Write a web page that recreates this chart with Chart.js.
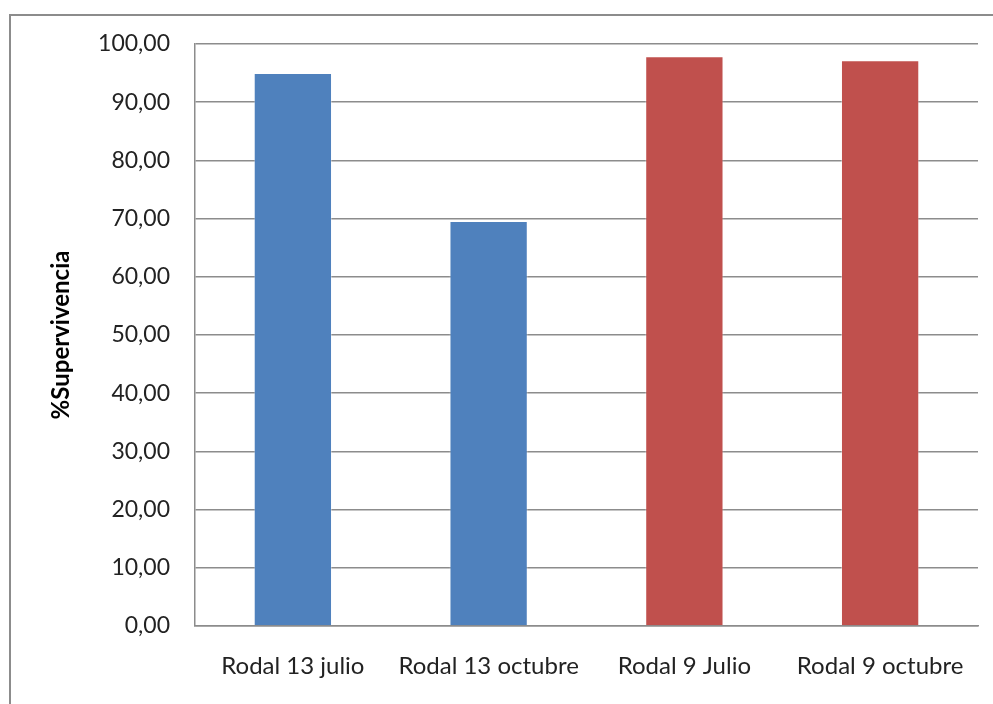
<!DOCTYPE html>
<html>
<head>
<meta charset="utf-8">
<script src="https://cdn.jsdelivr.net/npm/chart.js@4.4.1/dist/chart.umd.min.js"></script>
<style>
  html, body { margin: 0; padding: 0; background: #fff; }
  #wrap { position: relative; width: 993px; height: 704px; }
  #frame { position: absolute; left: 9px; top: 14px; right: -5px; bottom: -5px;
           border-left: 2px solid #8c8c8c; border-top: 2px solid #8c8c8c; }
  canvas { position: absolute; left: 0; top: 0; }
</style>
</head>
<body>
<div id="wrap">
  <div id="frame"></div>
  <canvas id="chart" width="993" height="704"></canvas>
</div>
<script>
const categories = ['Rodal 13 julio', 'Rodal 13 octubre', 'Rodal 9 Julio', 'Rodal 9 octubre'];
const survival = [95.0, 69.6, 97.9, 97.2];
const barColors = ['#4f81bd', '#4f81bd', '#c0504d', '#c0504d'];
const yTicks = [0, 10, 20, 30, 40, 50, 60, 70, 80, 90, 100];

const fontFamily = 'Lato, "Open Sans", sans-serif';

new Chart(document.getElementById('chart'), {
    type: 'bar',
    data: {
        labels: categories,
        datasets: [{
            label: '%Supervivencia',
            data: survival,
            backgroundColor: barColors,
            borderColor: 'rgba(255,255,255,0.35)',
            borderWidth: 1,
            barPercentage: 0.4,
            categoryPercentage: 1.0
        }]
    },
    options: {
        responsive: false,
        animation: false,
        layout: { padding: { left: 0, top: 44, right: 15, bottom: 0 } },
        plugins: {
            legend: { display: false },
            tooltip: { enabled: false }
        },
        scales: {
            x: {
                grid: { display: false, drawTicks: false },
                border: { color: '#8c8c8c', width: 1.5 },
                ticks: {
                    color: '#222',
                    padding: 26,
                    maxRotation: 0,
                    font: { family: fontFamily, size: 24 }
                },
                afterFit: (scale) => { scale.height = 78; }
            },
            y: {
                min: 0,
                max: 100,
                afterBuildTicks: (scale) => { scale.ticks = yTicks.map(v => ({ value: v })); },
                grid: { color: '#8c8c8c', lineWidth: 1.5, drawTicks: false },
                border: { color: '#8c8c8c', width: 1.5 },
                ticks: {
                    color: '#222',
                    padding: 25,
                    font: { family: fontFamily, size: 23 },
                    callback: (v) => v.toFixed(2).replace('.', ',')
                },
                title: {
                    display: true,
                    text: '%Supervivencia',
                    color: '#000',
                    font: { family: fontFamily, size: 24, weight: 'bold' },
                    padding: { top: 47, bottom: 0 }
                },
                afterFit: (scale) => { scale.width = 195; }
            }
        }
    }
});
</script>
</body>
</html>
